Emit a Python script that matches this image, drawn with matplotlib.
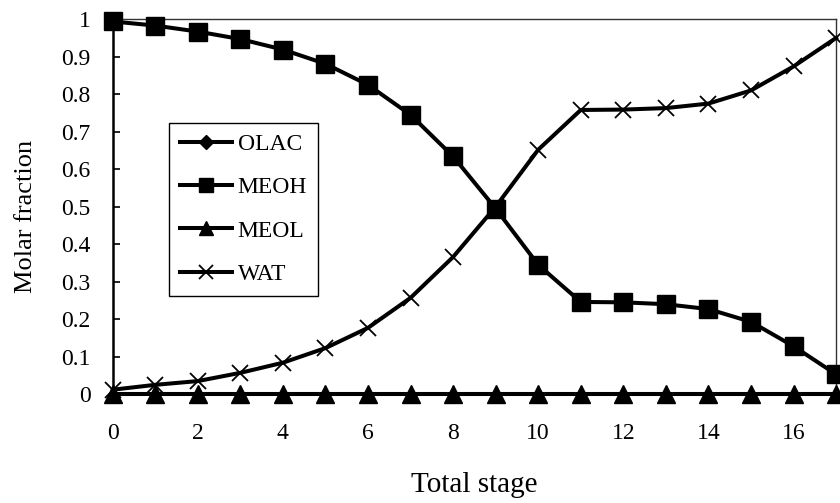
import matplotlib
matplotlib.use("Agg")
import matplotlib.pyplot as plt

stages = list(range(18))
olac = [0.0] * 18
meoh = [0.994, 0.983, 0.967, 0.947, 0.919, 0.881, 0.825, 0.745, 0.634, 0.495,
        0.345, 0.246, 0.245, 0.240, 0.227, 0.193, 0.128, 0.053]
meol = [0.0] * 18
wat = [0.012, 0.025, 0.035, 0.057, 0.084, 0.123, 0.177, 0.257, 0.366, 0.500,
       0.652, 0.758, 0.759, 0.763, 0.775, 0.810, 0.874, 0.950]

xticks = [0, 2, 4, 6, 8, 10, 12, 14, 16]
yticks = [0, 0.1, 0.2, 0.3, 0.4, 0.5, 0.6, 0.7, 0.8, 0.9, 1]
ytick_labels = ["0", "0.1", "0.2", "0.3", "0.4", "0.5", "0.6", "0.7", "0.8", "0.9", "1"]

plt.rcParams["font.family"] = ["Liberation Serif", "DejaVu Serif"]

fig = plt.figure(figsize=(8.4, 5.03), dpi=100)
ax = fig.add_axes([0.1342, 0.2163, 0.8611, 0.7455])

lw = 2.9
ax.plot(stages, olac, color="black", lw=lw, marker="D", ms=5,
        label="OLAC", clip_on=False, zorder=2)
ax.plot(stages, meoh, color="black", lw=lw, marker="s", ms=13,
        label="MEOH", clip_on=False, zorder=4)
ax.plot(stages, meol, color="black", lw=lw, marker="^", ms=13,
        label="MEOL", clip_on=False, zorder=3)
ax.plot(stages, wat, color="black", lw=lw, marker="x", ms=12, mew=1.3,
        label="WAT", clip_on=False, zorder=5)

ax.set_xlim(0, 17)
ax.set_ylim(0, 1)
ax.set_xticks(xticks)
ax.set_yticks(yticks)
ax.set_yticklabels(ytick_labels)
ax.tick_params(axis="x", length=0, pad=21, labelsize=17)
ax.tick_params(axis="y", direction="in", length=5, width=1.2, pad=16, labelsize=17)

for side in ("top", "right"):
    ax.spines[side].set_linewidth(1.0)
    ax.spines[side].set_color("#333333")
ax.spines["left"].set_linewidth(1.8)
ax.spines["bottom"].set_visible(False)

ax.set_xlabel("Total stage", fontsize=21, labelpad=20)
ax.set_ylabel("Molar fraction", fontsize=19)
ax.yaxis.set_label_coords(-0.105, 0.475)

leg = ax.legend(loc="upper left", bbox_to_anchor=(0.078, 0.723), fontsize=17,
                frameon=True, fancybox=False, edgecolor="black", framealpha=1,
                handlelength=2.2, handletextpad=0.25,
                labelspacing=0.92, borderpad=0.45, borderaxespad=0)
leg.get_frame().set_linewidth(1.0)
for handle, size in zip(leg.legend_handles, [7.5, 10, 10, 10]):
    handle.set_markersize(size)

fig.savefig("out.png", dpi=100)
